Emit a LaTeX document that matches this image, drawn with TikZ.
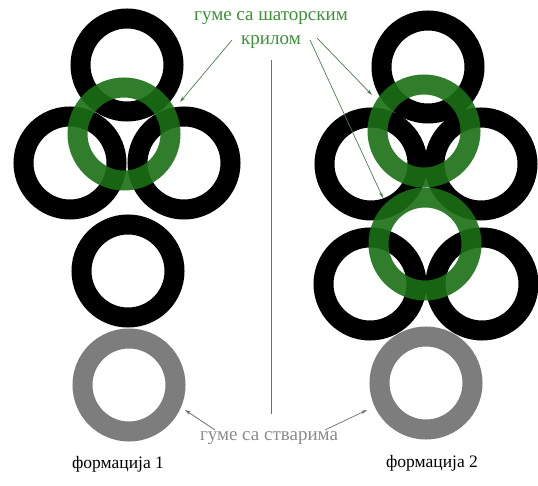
\documentclass[tikz,border=0pt]{standalone}
\usepackage{fontspec}
\setmainfont{Liberation Serif}
\usetikzlibrary{arrows.meta}
\definecolor{ringgreen}{RGB}{26,112,22}
\definecolor{txtgreen}{RGB}{60,145,55}
\definecolor{arrgreen}{RGB}{80,125,80}
\definecolor{ringgray}{RGB}{125,125,125}
\definecolor{txtgray}{RGB}{140,140,140}
\definecolor{arrgray}{RGB}{110,110,110}
\tikzset{
  ring/.style={circle, draw=black, line width=20pt, inner sep=0pt, minimum size=93pt},
  greenring/.style={ring, draw=ringgreen, draw opacity=0.9},
  grayring/.style={ring, draw=ringgray},
  garrow/.style={draw=arrgreen, line width=0.7pt, -{Stealth[length=6pt,width=3.5pt]}},
  yarrow/.style={draw=arrgray, line width=0.7pt, -{Stealth[length=6pt,width=3.5pt]}},
  lbl/.style={inner sep=0pt, font=\fontsize{19}{21}\selectfont},
  flbl/.style={inner sep=0pt, font=\fontsize{17.5}{20}\selectfont},
}
\begin{document}
\begin{tikzpicture}[x=1pt,y=-1pt]
\useasboundingbox (0,0) rectangle (538,486);
\fill[white] (0,0) rectangle (538,486);
% formation 1
\node[grayring] (y1) at (129,385) {};
\node[ring] (t1) at (127,65) {};
\node[ring] (l1) at (70,163) {};
\node[ring] (r1) at (184,163) {};
\node[ring] (b1) at (128,271) {};
\node[greenring] (g1) at (124,134) {};
% formation 2
\node[grayring] (y2) at (426,383) {};
\node[ring] (t2) at (428,67) {};
\node[ring] (ul2) at (371,164) {};
\node[ring] (ur2) at (481,164) {};
\node[ring] (ll2) at (370,284) {};
\node[ring] (lr2) at (482,284) {};
\node[greenring] (gu2) at (424,131) {};
\node[greenring] (gl2) at (425,244) {};
% divider
\coordinate (dtop) at (271,60);
\coordinate (dbot) at (271,414);
\draw[arrgray, line width=0.8pt] (dtop) -- (dbot);
% labels
\node[lbl, text=txtgreen] (gt1) at (271,18) {гуме са шаторским};
\node[lbl, text=txtgreen] (gt2) at (271,42) {крилом};
\node[lbl, text=txtgray] (st) at (269,438) {гуме са стварима};
\node[flbl, text=black] (f1) at (118,464) {формација 1};
\node[flbl, text=black] (f2) at (432,463) {формација 2};
% arrows
\coordinate (a1s) at (232,40); \coordinate (a1e) at (180,102);
\coordinate (a2s) at (317,38); \coordinate (a2e) at (372,95);
\coordinate (a3s) at (310,40); \coordinate (a3e) at (383,198);
\draw[garrow] (a1s) -- (a1e);
\draw[garrow] (a2s) -- (a2e);
\draw[garrow] (a3s) -- (a3e);
\coordinate (b1s) at (215,430); \coordinate (b1e) at (185,410);
\coordinate (b2s) at (325,430); \coordinate (b2e) at (367,410);
\draw[yarrow] (b1s) -- (b1e);
\draw[yarrow] (b2s) -- (b2e);
\end{tikzpicture}
\end{document}
